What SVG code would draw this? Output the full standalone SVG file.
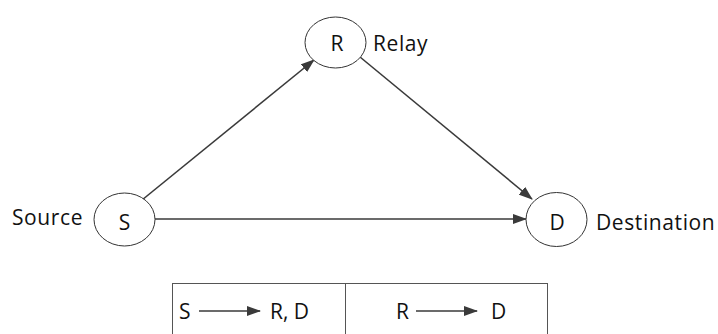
<svg xmlns="http://www.w3.org/2000/svg" width="718" height="334" viewBox="0 0 718 334">
<style>
.node{fill:#fff;stroke:#333;stroke-width:1}
.t{font-family:"Open Sans","Liberation Sans",sans-serif;font-size:21px;fill:#111}
.l{letter-spacing:0.6px}
.c{text-anchor:middle}
.edge{stroke:#3a3a3a;stroke-width:1.6;fill:none;marker-end:url(#ah)}
.box{fill:none;stroke:#555;stroke-width:1}
</style>
<defs>
<marker id="ah" markerWidth="14" markerHeight="10" refX="13" refY="5" orient="auto" markerUnits="userSpaceOnUse">
<path d="M0,0 L14,5 L0,10 Z" fill="#3a3a3a"/>
</marker>
</defs>
<rect width="718" height="334" fill="#fff"/>
<g id="connectors">
<line class="edge" x1="142" y1="200" x2="314" y2="60"/>
<line class="edge" x1="360" y1="57" x2="532" y2="199"/>
<line class="edge" x1="155" y1="219" x2="526" y2="219"/>
</g>
<g id="node-R">
<ellipse class="node" cx="335.5" cy="42.5" rx="30.5" ry="25.5"/>
<text class="t c" x="337" y="50.5">R</text>
<text class="t l" x="373" y="50.5">Relay</text>
</g>
<g id="node-S">
<ellipse class="node" cx="124.5" cy="219.5" rx="30.5" ry="26.5"/>
<text class="t c" x="124.5" y="230">S</text>
<text class="t l" x="12" y="225">Source</text>
</g>
<g id="node-D">
<ellipse class="node" cx="556.5" cy="219.5" rx="30.5" ry="27"/>
<text class="t c" x="557" y="230">D</text>
<text class="t l" x="596" y="230">Destination</text>
</g>
<g id="table">
<rect class="box" x="172.5" y="283.5" width="375" height="60"/>
<line class="box" x1="345.5" y1="283.5" x2="345.5" y2="334"/>
<text class="t" x="179" y="319">S</text>
<line class="edge" x1="199" y1="311" x2="260" y2="311"/>
<text class="t" x="270" y="319">R, D</text>
<text class="t" x="396" y="319">R</text>
<line class="edge" x1="416" y1="311" x2="477" y2="311"/>
<text class="t" x="491" y="319">D</text>
</g>
</svg>
